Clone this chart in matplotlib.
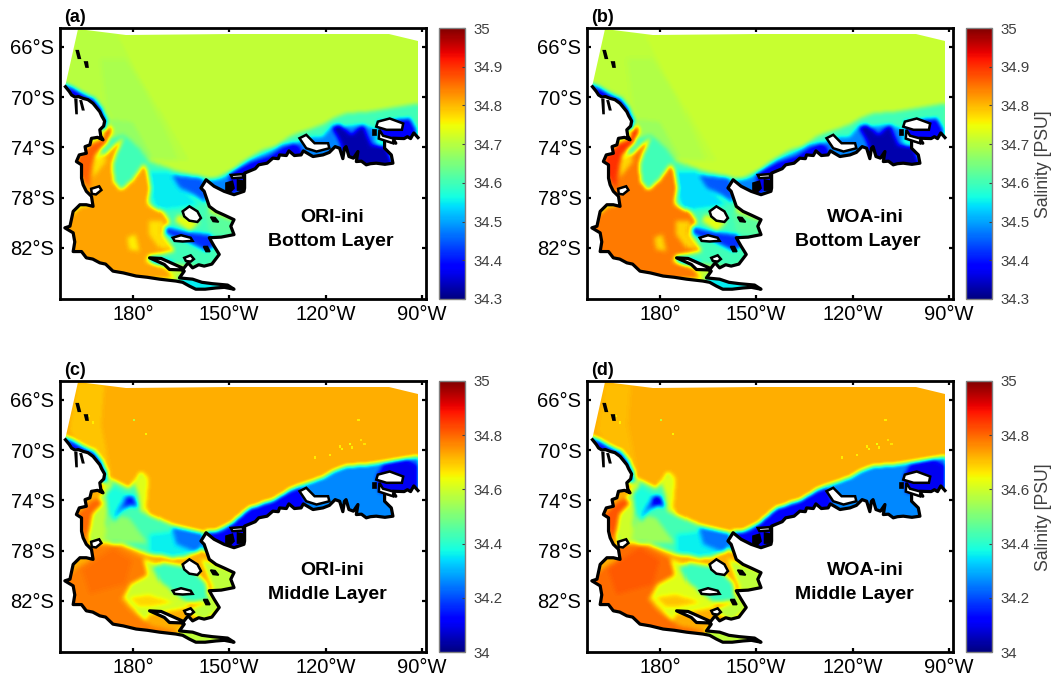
import numpy as np
import matplotlib
matplotlib.use("Agg")
import matplotlib.pyplot as plt
from matplotlib.path import Path
from matplotlib.patches import PathPatch

plt.rcParams['font.family'] = ['Liberation Sans', 'DejaVu Sans']

# ---------- Domain outline (longitude in degrees east, latitude) ----------
OPEN_LON = [268.8, 268.8, 259.9, 210.1, 177.9, 162.9, 159.0]
OPEN_LAT = [-73.22, -65.55, -65.0, -65.0, -65.07, -64.6, -69.17]
COAST_LON = [159.0, 160.2, 160.9, 162.0, 163.0, 164.5, 166.0, 167.6, 168.4, 169.7, 170.3, 171.2, 170.9, 169.7, 170.0, 170.7,
             169.0, 167.1, 166.6, 165.1, 165.5, 163.3, 162.4, 164.0, 164.0, 164.5, 165.5, 167.1, 167.6, 165.5, 163.5, 161.4,
             160.4, 158.8, 161.4, 161.9, 161.4, 164.0, 165.5, 167.5, 169.7, 171.5, 173.8, 177.0, 181.0, 184.5, 188.3,
             193.4, 195.5, 197.6, 199.6, 202.5, 205.9, 208.5, 211.5, 209.5, 204.8, 201.5, 198.6, 194.5, 196.0, 195.0, 191.4, 189.8, 185.2,
             188.8, 193.4, 195.8, 197.2, 198.6, 200.5, 202.2, 204.6, 206.9, 205.3, 203.8, 207.5, 211.5, 210.5, 211.5, 208.5, 205.9, 203.8, 203.0, 202.2, 201.2,
             202.8, 205.3, 208.4, 211.5, 214.6, 214.8, 214.8, 218.1, 219.2, 221.8, 223.6, 225.3, 225.7, 227.8, 228.6, 230.3, 232.4, 233.1, 236.1,
             239.2, 241.2, 243.0, 244.4, 245.4, 245.9, 246.4, 247.3, 248.7, 250.1, 249.6, 251.2, 252.7, 254.0, 255.8, 258.5, 261.0, 260.5, 258.4, 258.4, 261.9,
             260.9, 264.5, 265.5, 266.5, 267.5, 268.8]
COAST_LAT = [-69.17, -69.55, -69.83, -70.0, -69.95, -70.1, -70.2, -70.5, -70.75, -71.16, -71.5, -71.9, -72.3, -72.6, -73.1, -73.4,
             -73.2, -73.28, -73.8, -73.94, -74.47, -74.6, -75.13, -75.39, -76.45, -76.98, -77.5, -77.9, -78.7, -78.57, -78.57, -79.1,
             -80.28, -80.41, -80.81, -81.53, -82.3, -82.3, -82.8, -82.9, -83.2, -83.3, -83.86, -84.0, -84.25, -84.35, -84.5,
             -84.65, -84.75, -85.05, -85.3, -85.3, -85.2, -85.15, -85.3, -84.97, -84.86, -84.75, -84.5, -84.4, -83.86, -83.76, -83.73, -83.33, -82.8,
             -82.85, -83.38, -83.65, -83.2, -83.6, -83.35, -83.46, -83.3, -82.53, -81.87, -81.2, -81.15, -80.95, -80.28, -79.76, -79.4, -79.1, -78.7, -78.1, -77.5, -77.24,
             -76.58, -77.1, -77.5, -77.77, -77.5, -77.24, -76.05, -75.7, -75.39, -75.26, -74.86, -74.9, -74.6, -74.65, -74.28, -74.65, -74.6, -74.28, -74.73,
             -74.6, -74.4, -73.94, -74.07, -74.9, -74.07, -73.94, -74.73, -74.86, -74.33, -75.13, -75.1, -75.39, -75.3, -75.26, -75.35, -75.26, -74.6, -74.07, -73.4, -73.67,
             -73.27, -73.3, -73.15, -73.3, -72.85, -73.22]

# ---------- Islands ----------
ISLANDS_WHITE = [
    ([195.5, 197.6, 200.1, 201.2, 200.1, 197.6, 196.0], [-79.1, -78.7, -79.1, -79.63, -79.94, -79.84, -79.5]),
    ([192.4, 195.0, 198.0, 198.6, 195.5, 193.0], [-81.2, -81.0, -81.2, -81.45, -81.5, -81.45]),
    ([196.0, 198.0, 199.0, 198.0, 196.5], [-82.8, -82.6, -82.9, -83.1, -83.05]),
    ([167.0, 169.5, 170.2, 168.5, 167.2], [-77.3, -77.1, -77.4, -77.75, -77.7]),
    ([231.9, 234.0, 236.6, 240.8, 241.2, 237.2, 234.0], [-73.27, -73.0, -73.67, -73.67, -74.07, -74.33, -74.07]),
    ([256.3, 260.0, 264.2, 263.8, 259.0, 255.8], [-71.95, -71.7, -72.1, -72.6, -72.6, -72.35]),
    ([256.8, 256.6, 261.0, 261.2, 257.9], [-72.6, -73.3, -73.67, -73.3, -73.07]),
    ([210.5, 214.1, 214.6, 211.0], [-76.2, -76.13, -76.4, -76.45]),
]
ISLANDS_BLACK = [
    ([162.4, 163.0, 163.6, 163.0], [-66.3, -66.3, -66.9, -66.9]),
    ([165.0, 165.8, 166.0, 165.4], [-67.2, -67.2, -67.6, -67.6]),
    ([204.2, 205.6, 206.7, 205.0], [-79.55, -79.6, -79.95, -79.9]),
    ([202.0, 203.2, 204.0, 202.8], [-81.9, -81.9, -82.3, -82.3]),
    ([254.8, 255.8, 255.8, 254.8], [-72.6, -72.6, -73.05, -73.05]),
    ([209.0, 211.0, 211.5, 210.0, 209.0], [-76.85, -76.7, -77.25, -77.64, -77.4]),
    ([212.6, 214.6, 214.6, 212.6], [-76.6, -76.7, -77.4, -77.4]),
    ([162.0, 162.5, 162.6, 162.3], [-70.2, -70.2, -71.3, -71.3]),
    ([163.6, 164.0, 164.7, 164.3], [-70.3, -70.3, -71.0, -71.0]),
]

# ---------- Salinity regions, painted in order ----------
S_WEST = ([162.9, 174.8, 183.1, 189.3, 197.6, 189.3, 180, 172.8, 170.7, 159.3],
          [-64.6, -64.8, -68.8, -71.4, -75.1, -75.1, -74, -72.5, -71.4, -69])
S_WEST2 = ([170, 178, 184, 189, 194, 186, 178, 172],
           [-67, -67, -69.5, -72, -75, -75, -73.5, -71])
S_CORE = ([170.7, 180, 186.2, 183.1, 177.9, 172.8], [-71.7, -72, -74.86, -75.13, -74.07, -72.5])
S_ROSS = ([172.2, 177.4, 182.1, 185.2, 193.4, 202.7, 203.8, 212.1, 212.1, 208, 202.7, 185.2, 189.3, 185.2, 174.8, 169.7],
          [-73.3, -73.0, -74.07, -75.13, -75.9, -76.4, -79.36, -79.9, -81.2, -82.8, -83.6, -83.07, -80.68, -78.3, -77.2, -74.07])
S_CYAN = ([185.2, 191.4, 195, 200.7, 195.5, 187.2, 185.7], [-75.9, -75.9, -77.25, -78.57, -78.83, -79.1, -77.8])
S_BLUE = ([191.9, 201.7, 202.7, 202.7, 198.6, 194.5], [-76.2, -76.45, -77.5, -78.44, -77.77, -77.25])
S_ORANGE = ([173.3, 177.4, 175.3, 173.8, 174.3, 176.4, 180, 183.6, 184.7, 185.7, 184.7, 189.3, 191.4, 190.3, 189.3,
             192.9, 185.2, 184.1, 189.8, 192.9, 181, 169.7, 159.3, 158.3, 164, 166.6, 164.5, 163.5, 169.7],
            [-74.07, -73.2, -74.3, -75.4, -76.7, -77.4, -76.6, -75.3, -75.9, -77.25, -78.57, -79.1, -79.9, -80.4, -80.95,
             -82.27, -82.67, -83.07, -83.6, -84.4, -84.65, -83.6, -82.27, -79.9, -78.7, -78.7, -77.5, -75.9, -75.13])
S_YEL1 = ([167.6, 171.2, 171.7, 167.6], [-75.13, -74.47, -75.13, -76.45])
S_YEL2 = ([185.2, 189.3, 188.8, 191.9, 188.3, 185.2], [-79.9, -79.9, -80.95, -82.14, -82, -80.95])
S_RED = ([172.2, 173.8, 172.2, 168.6, 167, 166.6, 162.4, 162.9, 167.1, 170.7],
         [-72.1, -72.6, -73.7, -74.6, -75.9, -77.25, -75.9, -74.73, -73.7, -73.3])
S_YEL3 = ([178.4, 181, 182.1, 179], [-81.2, -80.95, -82.27, -82.14])
S_LOWBLUE = ([189.8, 195.5, 203.8, 206.4, 202.7, 196.5, 192.4, 189.8], [-80.3, -80.68, -80.95, -81.74, -82.27, -81.5, -81.2, -80.8])
S_YEL4 = ([194, 200.7, 197.6, 192.9], [-79.36, -80, -80.68, -79.9])
S_TEAL = ([202.2, 212, 212, 203.8], [-79.1, -79.9, -81.1, -80.8])
S_BLUE2 = ([185.2, 189.3, 192.9, 190.9, 186.2], [-82.67, -82.93, -83.2, -83.47, -83.2])
S_STRIP = ([194, 199.7, 212, 212, 198.6, 194.5], [-84.25, -84.4, -85.05, -85.6, -85.6, -84.9])
S_NORTH = ([158.3, 161.4, 164.5, 168.1, 170.2, 172.2, 172.2, 169.7, 160.4, 158.3],
           [-68.9, -69.2, -69.7, -70.1, -70.76, -71.8, -72.6, -72.5, -70.4, -69.8])
S_NORTH2 = ([160.4, 164.5, 167.6, 169.7, 171.2, 169.7, 166.6, 160.4], [-69.44, -70.05, -70.37, -71.03, -71.95, -71.95, -70.6, -69.8])
S_MBL = ([202.7, 205.9, 211, 214.3, 220.5, 224.6, 228.8, 232.9, 239.2, 242.3, 246.4, 253.7, 259.9, 267.2, 269.3, 269.3, 262, 210.1, 202.7],
         [-76.45, -76.45, -75.8, -75.13, -74.2, -73.94, -73.14, -72.75, -72.2, -71.7, -71.3, -71.16, -70.9, -70.6, -70.6, -73.5, -75.9, -78.3, -78])
S_MBL2 = ([202.7, 207.9, 216.3, 222.6, 225.7, 230.9, 233.9, 239.2, 241.2, 246.4, 251.6, 255.8, 255.8, 262, 230.9, 210.1, 202],
          [-76.7, -76.45, -75, -74.33, -73.8, -73.67, -73.27, -73.14, -72.5, -72.35, -72.2, -72.6, -74.07, -75.66, -75.9, -78.3, -78])
S_MBL3 = ([210.1, 216.3, 222.6, 225.7, 229.8, 231.9, 233, 220.5, 210.1], [-76.05, -75.26, -74.73, -74.2, -73.67, -73.94, -74.86, -76.2, -77.8])
S_NAVY = ([241.8, 244.4, 248, 251.6, 254.2, 258.9, 261, 250.6, 246.4, 244.4], [-72.35, -72.2, -73, -72.2, -73.8, -73.94, -75.4, -75.66, -75.13, -73.54])
S_THUR = ([256.3, 266.2, 268.2, 268.2, 256.8], [-71.95, -71.7, -72.6, -73.4, -73.4])

BOTTOM_SHAPES = [S_WEST, S_WEST2, S_CORE, S_ROSS, S_CYAN, S_BLUE, S_ORANGE, S_YEL1, S_YEL2, S_RED, S_YEL3, S_LOWBLUE, S_YEL4,
                 S_TEAL, S_BLUE2, S_STRIP, S_NORTH, S_NORTH2, S_MBL, S_MBL2, S_MBL3, S_NAVY, S_THUR]
ORI_BOTTOM_BASE = 34.71
ORI_BOTTOM = [34.70, 34.69, 34.67, 34.60, 34.55, 34.45, 34.815, 34.77, 34.77, 34.865, 34.76, 34.42, 34.74,
              34.62, 34.45, 34.55, 34.43, 34.33, 34.60, 34.48, 34.37, 34.33, 34.38]
WOA_BOTTOM_BASE = 34.715
WOA_BOTTOM = [34.705, 34.695, 34.675, 34.60, 34.54, 34.45, 34.845, 34.78, 34.78, 34.90, 34.78, 34.42, 34.74,
              34.62, 34.45, 34.55, 34.44, 34.33, 34.60, 34.48, 34.37, 34.33, 34.38]

M_RIM = ([160.4, 162.9, 171.2, 170.2, 173.3, 172.2], [-68.5, -64.6, -64.8, -68, -72, -72.1])
M_SHELF = ([171.2, 179, 182.6, 184.7, 183.6, 185.2, 192.4, 201.7, 202.7, 195.5, 185.2, 177, 169.7, 166.6, 165.5, 167.6, 171.2],
           [-72.1, -73.1, -71.8, -72.2, -74.3, -75.2, -76, -76.6, -77.8, -78.57, -78.3, -77.5, -77.4, -77.5, -75.9, -74.6, -73.4])
M_FRONT = ([180.5, 183.1, 185, 184.1, 185.7, 182.6, 181.9], [-72.6, -71.8, -72.2, -74.9, -75.3, -74.9, -73.6])
M_WEST = ([171.2, 173.8, 172.8, 171.7, 172.8, 167.6, 165.5, 167.6, 170.7], [-72.35, -72.5, -73.8, -75.9, -77.4, -77.4, -75.9, -74.6, -73.8])
M_RED = ([167.1, 169.7, 170.7, 167.6, 166.4, 167.1, 164.5, 162.9], [-74.07, -73.85, -74.3, -75.13, -76.7, -77.64, -76.7, -75.13])
M_GREEN = ([172.8, 179, 184.7, 177, 171.2], [-75.1, -75.4, -77.4, -77.4, -77.25])
M_STREAK = ([173.8, 177.4, 179, 175.9, 173.8, 172.2, 171.7], [-72.9, -73.4, -73.94, -75.1, -75.65, -74.6, -73.54])
M_PATCH = ([177.9, 180.5, 181.9, 179.5, 176.4, 174.3, 175.3], [-73.67, -73.67, -74.6, -74.47, -74.86, -75.8, -74.86])
M_CORE = ([178.4, 180, 181.2, 179.5, 177.4], [-73.67, -73.67, -74.47, -74.33, -74.6])
M_CYAN = ([185.2, 192.4, 198.6, 192.4, 185.2], [-76.7, -76.45, -78.17, -78.6, -78.17])
M_AZURE = ([191.9, 202, 202.2, 199.6, 193.4], [-76.13, -76.6, -77.5, -78.17, -77.5])
M_SOUTH = ([158.3, 162.9, 167.1, 167.1, 174.8, 183.1, 184.7, 179, 176.4, 180, 186.2, 194.9, 181, 169.7, 159.3],
           [-80.4, -79.36, -78.7, -77.64, -77.5, -78.57, -79.9, -80.8, -81.9, -82.9, -84, -84.5, -84.9, -83.9, -82.8])
M_HOT = ([164, 173.8, 180, 177.9, 166.6], [-79.5, -77.8, -78.8, -80.7, -81.5])
M_BELT = ([183.6, 189.8, 188.3, 192.9, 197.6, 185.2, 184.1, 180, 177.4, 179.5, 184.7],
          [-78.7, -79.36, -80.4, -81.5, -82.5, -83.07, -83.6, -82.53, -81.74, -80.68, -80])
M_BELT2 = ([179, 185.2, 192.4, 185.2, 182.1], [-81.74, -81.5, -82.14, -82.53, -82.53])
M_CENTRE = ([189.3, 197.6, 202.7, 203.3, 196.5, 192.4, 188.3, 186.2], [-79, -79.36, -80.68, -82, -82.14, -81.35, -80.4, -79.36])
M_RIGHT = ([201.2, 212, 212, 203.8, 207.4, 202.2, 196.5, 202.7, 204.8, 202.7], [-78.7, -79.76, -81.1, -81.35, -82.53, -83.6, -82.8, -82.14, -80.95, -79.63])
M_DARK1 = ([202.7, 207.9, 216.3, 222.6, 225.7, 232, 233.5, 233, 220.5, 210.1, 202], [-76.7, -76.45, -74.6, -74.2, -73.67, -73, -74.07, -74.86, -76.2, -78.3, -78])
M_DARK2 = ([257.9, 265.1, 268.8, 268.8, 256.8, 255.8], [-71.16, -70.75, -71.2, -73.4, -73.4, -72.2])

MIDDLE_SHAPES = [M_RIM, M_SHELF, M_FRONT, M_WEST, M_RED, M_GREEN, M_STREAK, M_PATCH, M_CORE, M_CYAN, M_AZURE, M_SOUTH,
                 M_HOT, M_BELT, M_BELT2, M_CENTRE, M_RIGHT, S_STRIP, S_NORTH, S_NORTH2, S_MBL, M_DARK1, M_DARK2]
ORI_MIDDLE_BASE = 34.725
ORI_MIDDLE = [34.70, 34.43, 34.62, 34.58, 34.80, 34.52, 34.38, 34.24, 34.14, 34.36, 34.24, 34.775,
              34.79, 34.60, 34.68, 34.42, 34.58, 34.58, 34.20, 34.10, 34.26, 34.12, 34.10]
WOA_MIDDLE_BASE = 34.725
WOA_MIDDLE = [34.71, 34.43, 34.62, 34.60, 34.82, 34.54, 34.38, 34.24, 34.08, 34.36, 34.24, 34.795,
              34.815, 34.62, 34.70, 34.42, 34.58, 34.58, 34.20, 34.10, 34.26, 34.12, 34.10]

# Small light flecks seen in the mid-layer field
FLECK_LON = [236.8, 241.4, 245.1, 244.6, 247.6, 248.3, 251.0, 250.3, 252.2, 180.4, 184.0, 166.2, 167.5]
FLECK_LAT = [-70.6, -70.4, -69.9, -69.7, -69.5, -69.8, -69.2, -67.6, -69.5, -67.6, -68.7, -67.3, -67.8]
FLECK_VAL = [34.66, 34.66, 34.65, 34.66, 34.64, 34.66, 34.67, 34.66, 34.67, 34.58, 34.65, 34.66, 34.66]

# ---------- Axis labels ----------
LON_TICKS = [180, 210, 240, 270]
LON_LABELS = ['180°', '150°W', '120°W', '90°W']
LAT_TICKS = [-66, -70, -74, -78, -82]
LAT_LABELS = ['66°S', '70°S', '74°S', '78°S', '82°S']
BOTTOM_CB_TICKS = [34.3, 34.4, 34.5, 34.6, 34.7, 34.8, 34.9, 35]
BOTTOM_CB_LABELS = ['34.3', '34.4', '34.5', '34.6', '34.7', '34.8', '34.9', '35']
MIDDLE_CB_TICKS = [34, 34.2, 34.4, 34.6, 34.8, 35]
MIDDLE_CB_LABELS = ['34', '34.2', '34.4', '34.6', '34.8', '35']

W, H = 1055, 677
fig = plt.figure(figsize=(W / 100, H / 100), dpi=100)


def box(x0, y0, x1, y1):
    return [x0 / W, 1 - y1 / H, (x1 - x0) / W, (y1 - y0) / H]


grid_lon = np.linspace(156, 273, 376)
grid_lat = np.linspace(-87, -64, 290)
LL, PP = np.meshgrid(grid_lon, grid_lat)
points = np.column_stack([LL.ravel(), PP.ravel()])


def paint(shapes, values, base, radius=2):
    z = np.full(LL.shape, float(base))
    for (lons, lats), v in zip(shapes, values):
        inside = Path(np.column_stack([lons, lats])).contains_points(points).reshape(LL.shape)
        z[inside] = v
    for _ in range(2):
        for axis in (0, 1):
            z = sum(np.roll(z, k, axis=axis) for k in range(-radius, radius + 1)) / (2 * radius + 1)
    return z


ocean_path = Path(np.column_stack([COAST_LON + OPEN_LON, COAST_LAT + OPEN_LAT]))

panels = [
    ('(a)', 60, 28, BOTTOM_SHAPES, ORI_BOTTOM, ORI_BOTTOM_BASE, 34.3, BOTTOM_CB_TICKS, BOTTOM_CB_LABELS, 'ORI-ini', 'Bottom Layer', 242.0, 241.7, False, False),
    ('(b)', 587, 28, BOTTOM_SHAPES, WOA_BOTTOM, WOA_BOTTOM_BASE, 34.3, BOTTOM_CB_TICKS, BOTTOM_CB_LABELS, 'WOA-ini', 'Bottom Layer', 243.9, 241.7, True, False),
    ('(c)', 60, 381, MIDDLE_SHAPES, ORI_MIDDLE, ORI_MIDDLE_BASE, 34.0, MIDDLE_CB_TICKS, MIDDLE_CB_LABELS, 'ORI-ini', 'Middle Layer', 242.0, 240.7, False, True),
    ('(d)', 587, 381, MIDDLE_SHAPES, WOA_MIDDLE, WOA_MIDDLE_BASE, 34.0, MIDDLE_CB_TICKS, MIDDLE_CB_LABELS, 'WOA-ini', 'Middle Layer', 243.9, 240.7, True, True),
]

for tag, x0, y0, shapes, vals, base, vmin, cticks, clabels, line1, line2, lon1, lon2, has_label, flecks in panels:
    ax = fig.add_axes(box(x0, y0, x0 + 366, y0 + 271))
    ax.set_xlim(157.3, 271.3)
    ax.set_ylim(-86.08, -64.49)
    z = paint(shapes, vals, base)
    mesh = ax.pcolormesh(grid_lon, grid_lat, z, cmap='jet', vmin=vmin, vmax=35, shading='auto', rasterized=True)
    clip = PathPatch(ocean_path, transform=ax.transData, facecolor='none', edgecolor='none')
    ax.add_patch(clip)
    mesh.set_clip_path(clip)
    if flecks:
        ax.scatter(FLECK_LON, FLECK_LAT, c=FLECK_VAL, cmap='jet', vmin=vmin, vmax=35, s=3, marker='s', linewidths=0, zorder=2)
    ax.plot(COAST_LON, COAST_LAT, color='k', lw=2.3, solid_joinstyle='round', zorder=3)
    for lons, lats in ISLANDS_WHITE:
        ax.fill(lons, lats, facecolor='white', edgecolor='k', lw=1.8, zorder=3)
    for lons, lats in ISLANDS_BLACK:
        ax.fill(lons, lats, facecolor='k', edgecolor='k', lw=1.2, zorder=3)

    ax.set_xticks(LON_TICKS, LON_LABELS)
    ax.set_yticks(LAT_TICKS, LAT_LABELS)
    ax.tick_params(direction='in', length=3, width=1.6, top=True, right=True, labelsize=14.5, pad=4, color='k')
    for sp in ax.spines.values():
        sp.set_linewidth(2.0)
    ax.text(lon1, -79.6, line1, ha='center', va='center', fontsize=14, fontweight='bold')
    ax.text(lon2, -81.5, line2, ha='center', va='center', fontsize=14, fontweight='bold')
    ax.text(0.011, 1.037, tag, transform=ax.transAxes, ha='left', va='center', fontsize=13, fontweight='bold')

    cax = fig.add_axes(box(x0 + 379, y0, x0 + 405, y0 + 271))
    cb = fig.colorbar(mesh, cax=cax)
    cb.set_ticks(cticks, labels=clabels)
    cb.outline.set_edgecolor('#808080')
    cb.outline.set_linewidth(1.0)
    cax.tick_params(direction='in', length=2, width=0.8, color='#404040', labelcolor='#404040', labelsize=10.8, pad=6)
    if has_label:
        fig.text(1044 / W, 1 - (y0 + 136) / H, 'Salinity [PSU]', rotation=90, ha='center', va='center',
                 fontsize=12.7, color='#404040')

fig.savefig('out.png', dpi=100)
